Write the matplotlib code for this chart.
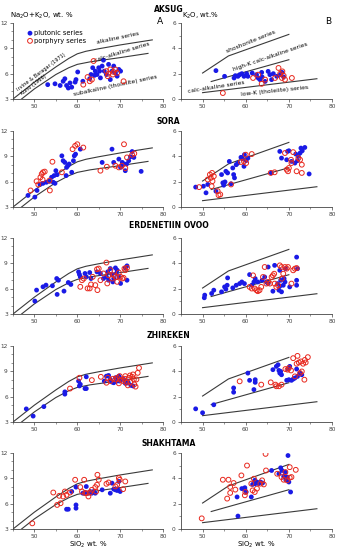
import matplotlib
matplotlib.use("Agg")
import matplotlib.pyplot as plt
from matplotlib.ticker import MultipleLocator

# (SiO2, Na2O+K2O) and (SiO2, K2O) pairs, wt. %
AKSUG_TAS_PLUT = [(53.1, 4.7), (54.8, 4.8), (56.0, 4.6), (56.7, 5.1), (57.1, 5.4), (57.5, 4.6),
                  (57.9, 4.3), (58.3, 4.9), (58.7, 4.4), (59.5, 5.0), (59.7, 5.3), (60.1, 6.2),
                  (61.3, 5.1), (62.9, 5.4), (63.2, 5.9), (63.6, 6.7), (64.0, 5.8), (64.2, 6.3),
                  (64.6, 5.9), (65.0, 6.7), (65.2, 6.3), (65.4, 5.5), (65.8, 6.9), (66.1, 7.6),
                  (66.3, 6.3), (66.8, 5.9), (67.3, 7.1), (67.7, 5.3), (68.1, 6.3), (68.5, 6.9),
                  (68.9, 6.1), (69.3, 5.7), (69.7, 6.5), (70.1, 6.3)]
AKSUG_TAS_PORPH = [(61.4, 4.7), (62.4, 5.6), (62.9, 5.1), (63.4, 5.3), (63.8, 7.5), (66.8, 6.3),
                   (67.1, 5.7), (67.3, 6.0), (67.7, 6.5), (68.3, 5.9), (68.5, 6.2), (68.9, 6.5),
                   (69.3, 6.1), (70.8, 5.1)]
AKSUG_K_PLUT = [(53.1, 2.24), (55.1, 1.79), (57.3, 1.66), (57.6, 1.84), (58.2, 1.79), (58.6, 1.92),
                (59.1, 2.0), (59.6, 1.79), (60.2, 2.0), (60.5, 1.79), (61.5, 2.05), (62.5, 1.92),
                (62.9, 1.66), (63.3, 1.53), (63.7, 2.1), (63.8, 1.74), (64.5, 1.39), (65.2, 2.18),
                (65.6, 1.92), (66.0, 1.53), (66.4, 2.0), (67.2, 1.79), (68.0, 1.92), (68.4, 2.1),
                (68.8, 1.74)]
AKSUG_K_PORPH = [(54.7, 0.47), (61.7, 1.66), (62.9, 1.92), (63.7, 1.2), (64.5, 1.53), (66.8, 1.66),
                 (67.6, 2.45), (68.0, 2.0), (68.4, 1.66), (68.5, 2.18), (68.8, 1.84), (69.1, 1.53),
                 (70.7, 1.66)]

SORA_TAS_PLUT = [(48.5, 4.37), (50.1, 4.17), (50.6, 4.96), (51.3, 5.66), (52.0, 5.8), (52.8, 5.93),
                 (53.5, 6.05), (54.0, 6.52), (54.4, 5.93), (54.8, 5.8), (54.6, 6.72), (55.0, 7.3),
                 (55.3, 6.83), (56.4, 9.06), (56.7, 8.48), (57.1, 8.28), (57.4, 6.72), (57.5, 7.69),
                 (57.8, 7.89), (58.1, 8.09), (58.7, 7.11), (59.1, 8.48), (59.3, 9.06), (59.6, 9.26),
                 (60.7, 9.85), (65.8, 8.28), (68.1, 9.85), (68.5, 8.28), (69.7, 8.67), (70.1, 7.69),
                 (70.4, 7.9), (70.5, 8.28), (70.8, 8.09), (71.2, 7.3), (71.5, 8.09), (72.0, 8.48),
                 (72.4, 8.95), (72.8, 9.57), (73.2, 8.87), (74.9, 7.22)]
SORA_TAS_PORPH = [(49.1, 4.96), (50.5, 6.05), (50.9, 5.66), (51.4, 6.52), (51.7, 6.91), (52.0, 7.11),
                  (52.4, 7.19), (51.9, 6.25), (53.5, 6.13), (53.6, 4.96), (54.2, 8.36), (56.4, 7.11),
                  (58.9, 9.85), (59.5, 10.24), (60.0, 10.43), (61.4, 10.04), (65.4, 7.3), (66.9, 7.77),
                  (68.9, 7.89), (69.7, 7.69), (70.4, 7.89), (70.9, 10.43), (71.2, 7.61), (71.6, 8.87),
                  (72.8, 9.18), (73.3, 9.34)]
SORA_K_PLUT = [(48.4, 1.57), (50.2, 1.64), (50.8, 1.12), (51.2, 1.78), (53.1, 1.25), (54.4, 2.56),
               (54.7, 1.91), (54.9, 1.72), (55.2, 1.98), (55.4, 2.82), (55.8, 2.69), (56.2, 3.6),
               (56.6, 1.83), (57.0, 3.08), (57.2, 2.56), (57.4, 2.3), (57.8, 3.34), (58.2, 3.47),
               (58.9, 3.92), (59.2, 3.81), (59.6, 3.21), (59.7, 4.13), (60.1, 3.66), (60.5, 3.86),
               (65.9, 2.69), (67.9, 4.39), (68.3, 3.86), (69.5, 3.73), (69.7, 4.39), (70.0, 4.44),
               (70.6, 3.6), (71.4, 3.47), (71.6, 4.18), (72.0, 3.66), (72.2, 3.99), (72.6, 4.26),
               (72.8, 4.65), (73.1, 4.44), (73.7, 4.7), (74.7, 2.61)]
SORA_K_PORPH = [(49.2, 1.57), (51.2, 2.17), (51.7, 2.56), (51.9, 2.3), (52.2, 2.69), (52.3, 2.04),
                (52.6, 2.43), (52.1, 1.64), (53.5, 1.25), (53.7, 0.94), (54.1, 0.99), (56.6, 1.78),
                (58.9, 3.55), (59.6, 3.6), (60.0, 4.13), (60.1, 3.47), (61.4, 4.18), (65.8, 2.69),
                (66.7, 2.74), (69.1, 4.26), (69.5, 2.95), (69.8, 2.82), (70.0, 3.08), (70.5, 3.73),
                (70.6, 3.47), (71.0, 4.33), (71.8, 2.82), (72.2, 3.86), (72.6, 3.73), (73.0, 3.34),
                (73.0, 2.69)]

ERDEN_TAS_PLUT = [(50.1, 4.53), (50.5, 5.83), (52.0, 6.22), (52.7, 6.42), (54.2, 6.34), (55.2, 7.2),
                  (55.6, 7.0), (55.3, 5.32), (56.9, 5.71), (57.9, 6.73), (58.5, 6.5), (60.3, 7.99),
                  (60.5, 7.68), (60.7, 7.4), (61.8, 7.8), (62.1, 7.4), (62.9, 7.91), (63.2, 7.2),
                  (64.6, 7.99), (65.4, 7.8), (66.1, 7.2), (66.8, 7.4), (67.1, 7.99), (67.3, 7.0),
                  (67.7, 8.38), (68.1, 7.68), (68.3, 6.8), (68.5, 7.2), (68.9, 8.46), (69.1, 7.8),
                  (69.3, 8.19), (69.7, 7.4), (70.1, 6.62), (71.2, 8.46), (71.6, 8.7), (71.6, 7.0)]
ERDEN_TAS_PORPH = [(60.7, 6.22), (61.1, 7.0), (61.5, 7.2), (62.4, 6.03), (62.9, 6.03), (63.2, 6.5),
                   (63.6, 7.4), (64.2, 6.42), (64.6, 8.3), (64.7, 5.83), (65.0, 8.38), (65.4, 7.0),
                   (66.1, 7.8), (66.8, 9.09), (67.0, 6.62), (67.3, 7.6), (67.7, 8.19), (68.1, 7.2),
                   (68.5, 7.6), (68.9, 7.4), (69.3, 6.81), (69.7, 7.91), (70.1, 7.4), (70.5, 7.2),
                   (70.8, 7.28), (71.0, 8.38), (71.2, 8.19), (71.6, 8.46)]
ERDEN_K_PLUT = [(50.4, 1.28), (50.5, 1.49), (52.1, 1.62), (52.6, 1.88), (54.4, 1.75), (55.1, 2.14),
                (55.4, 1.96), (55.7, 2.27), (55.8, 2.85), (57.0, 2.06), (57.8, 2.27), (58.6, 2.4),
                (59.1, 2.53), (59.7, 2.4), (60.9, 3.11), (61.4, 2.27), (61.9, 2.53), (62.2, 2.79),
                (62.8, 2.53), (63.8, 2.66), (64.4, 2.92), (64.8, 2.53), (65.2, 2.4), (65.2, 3.71),
                (66.3, 1.8), (66.7, 3.84), (67.4, 2.4), (67.7, 1.88), (67.9, 3.45), (67.9, 2.19),
                (68.1, 2.66), (68.3, 1.75), (68.7, 2.27), (68.9, 2.79), (69.1, 2.53), (69.2, 3.58),
                (70.2, 2.14), (71.8, 4.49), (71.8, 2.66), (71.8, 2.27), (72.0, 3.58)]
ERDEN_K_PORPH = [(60.9, 2.14), (61.4, 2.01), (61.7, 3.05), (62.1, 2.01), (62.5, 1.88), (62.8, 1.8),
                 (63.2, 1.88), (63.6, 2.14), (64.0, 2.92), (64.4, 3.71), (64.8, 2.4), (65.2, 2.53),
                 (65.6, 2.4), (66.0, 2.92), (66.3, 3.05), (66.6, 3.18), (66.7, 2.4), (67.1, 2.14),
                 (67.5, 2.27), (67.9, 3.84), (68.3, 3.71), (68.4, 2.79), (68.7, 3.18), (69.1, 3.71),
                 (69.5, 3.58), (69.8, 3.71), (70.6, 2.4), (71.0, 3.45), (71.4, 3.58), (71.8, 3.63)]

ZHIR_TAS_PLUT = [(48.1, 4.55), (49.7, 3.7), (52.2, 4.82), (57.1, 6.57), (57.1, 6.3), (60.3, 7.85),
                 (60.5, 7.27), (60.7, 7.46), (61.8, 6.96), (62.1, 6.96), (62.1, 8.35), (66.3, 7.85),
                 (66.8, 8.43), (67.3, 8.51), (67.7, 8.04), (68.1, 7.73), (68.5, 7.65), (68.9, 8.24),
                 (69.3, 7.85), (69.7, 8.43), (69.9, 7.85), (70.5, 8.12), (70.8, 8.04), (71.2, 7.58),
                 (71.6, 7.85), (71.9, 7.65), (72.5, 7.34), (73.0, 7.27)]
ZHIR_TAS_PORPH = [(58.3, 6.96), (60.5, 8.24), (63.4, 7.96), (65.5, 8.35), (66.8, 7.65), (67.1, 8.24),
                  (67.7, 7.85), (68.3, 8.12), (68.9, 8.04), (69.3, 8.24), (69.7, 7.58), (69.9, 8.43),
                  (70.2, 7.96), (70.7, 7.85), (71.0, 8.12), (71.2, 8.43), (71.5, 7.65), (71.8, 7.34),
                  (72.0, 8.24), (72.3, 8.51), (72.4, 7.73), (72.8, 8.35), (73.0, 8.63), (73.2, 8.04),
                  (73.3, 7.46), (73.6, 7.19), (73.8, 8.04), (74.1, 8.82), (74.4, 9.4)]
ZHIR_K_PLUT = [(48.4, 1.04), (50.0, 0.73), (52.6, 1.36), (57.2, 2.69), (57.2, 2.35), (60.5, 3.86),
               (60.9, 3.29), (61.9, 2.56), (62.2, 3.34), (62.2, 3.13), (66.3, 4.13), (67.1, 4.39),
               (67.5, 4.52), (67.7, 4.07), (67.9, 3.86), (68.1, 3.99), (68.3, 3.73), (69.5, 3.29),
               (69.8, 4.18), (70.0, 3.34), (70.2, 4.39), (70.6, 3.29), (71.0, 3.39), (71.4, 3.47),
               (71.8, 4.18), (72.0, 3.6), (72.6, 3.86), (73.0, 3.73)]
ZHIR_K_PORPH = [(58.6, 3.21), (63.6, 2.95), (65.8, 3.13), (66.9, 2.95), (67.1, 2.82), (67.7, 2.82),
                (68.3, 2.95), (69.2, 4.18), (69.7, 4.13), (70.0, 4.26), (70.5, 4.07), (71.0, 5.04),
                (71.4, 3.6), (71.8, 4.6), (72.0, 5.22), (72.3, 4.7), (72.6, 3.86), (72.8, 4.78),
                (73.0, 3.99), (73.3, 4.6), (73.6, 3.34), (73.7, 4.9), (73.9, 4.7), (74.4, 5.12)]

SHAKH_TAS_PLUT = [(57.5, 5.34), (57.9, 5.34), (58.7, 7.44), (59.7, 5.85), (59.7, 5.46), (59.7, 7.96),
                  (61.3, 7.24), (61.8, 7.32), (62.1, 8.03), (62.6, 7.24), (63.0, 7.44), (63.4, 7.24),
                  (63.8, 7.44), (64.2, 7.24), (65.8, 7.64), (67.7, 7.24), (68.1, 8.43), (68.5, 7.72),
                  (68.9, 7.64), (69.3, 7.56), (69.4, 7.72), (69.7, 8.63), (70.0, 7.44)]
SHAKH_TAS_PORPH = [(49.5, 3.67), (54.4, 7.32), (55.3, 5.85), (55.8, 6.93), (56.1, 6.05), (56.7, 6.85),
                   (57.1, 7.44), (57.5, 7.04), (58.3, 7.32), (59.5, 8.83), (60.7, 7.96), (61.1, 7.44),
                   (61.6, 8.83), (61.8, 7.24), (62.2, 7.24), (62.6, 6.85), (63.0, 7.32), (63.4, 7.64),
                   (64.2, 7.96), (64.4, 7.44), (64.6, 8.23), (64.7, 9.42), (65.0, 8.83), (66.8, 8.35),
                   (67.3, 8.51), (68.9, 8.04), (69.3, 8.23), (69.7, 9.03), (69.9, 8.83), (70.7, 7.72),
                   (71.2, 8.63)]
SHAKH_K_PLUT = [(58.2, 1.02), (58.0, 2.53), (59.1, 3.19), (59.8, 3.26), (60.1, 2.92), (59.8, 3.11),
                (61.3, 2.53), (61.6, 3.52), (62.1, 3.84), (62.2, 3.58), (62.6, 3.71), (63.0, 3.58),
                (63.4, 3.71), (63.9, 3.63), (66.0, 4.62), (67.7, 4.36), (68.1, 4.83), (68.4, 4.62),
                (68.8, 4.15), (69.2, 4.49), (69.3, 3.89), (69.6, 4.1), (69.8, 5.8), (70.0, 3.71),
                (70.4, 2.92)]
SHAKH_K_PORPH = [(49.8, 0.84), (54.7, 3.89), (55.7, 2.4), (56.0, 3.89), (56.4, 3.32), (56.4, 2.85),
                 (57.2, 3.63), (57.6, 3.11), (59.0, 4.23), (59.8, 2.66), (59.9, 2.92), (60.3, 5.01),
                 (61.3, 3.58), (61.6, 3.05), (61.9, 3.97), (62.1, 2.92), (62.6, 3.19), (63.4, 3.58),
                 (63.8, 3.84), (64.2, 3.52), (64.6, 5.93), (64.7, 4.62), (67.3, 4.36), (68.3, 4.1),
                 (68.8, 3.89), (69.2, 4.49), (69.6, 3.84), (70.2, 4.88), (70.2, 4.05), (70.6, 4.1),
                 (71.6, 4.67)]

SITES = ["AKSUG", "SORA", "ERDENETIIN OVOO", "ZHIREKEN", "SHAKHTAMA"]

# series boundaries (SiO2, value)
ALK_UPPER = [(45, 3.0), (50, 5.0), (55, 6.8), (58, 7.8), (60, 8.35), (62, 8.65), (65, 8.95),
             (70, 9.4), (77.5, 10.0)]
ALK_LOWER = [(47, 3.0), (50, 4.2), (55, 5.9), (58, 6.7), (60, 7.1), (63, 7.4), (70, 7.9),
             (76.5, 8.4)]
K_SHOSH = [(50, 2.05), (56, 3.4), (70, 5.1)]
K_HIGHK = [(52, 1.38), (70, 3.1)]
K_LOWK = [(50, 0.5), (76.5, 1.6)]

PLUT_C = "#1a1ae6"
PORPH_C = "#e8281e"
LINE_C = "#3a3a3a"

fig = plt.figure(figsize=(3.37, 5.5), dpi=100)
W, H = 337.0, 550.0
row_bottoms = [99, 207, 314, 422, 529]
title_y = [9, 121, 226, 335, 444]
ax_h = 76 / H


def xy(pts):
    return [p[0] for p in pts], [p[1] for p in pts]


def style(ax, ylim, ymajor, yminor):
    ax.set_xlim(45, 80)
    ax.set_ylim(*ylim)
    ax.xaxis.set_major_locator(MultipleLocator(10))
    ax.xaxis.set_minor_locator(MultipleLocator(5))
    ax.yaxis.set_major_locator(MultipleLocator(ymajor))
    ax.yaxis.set_minor_locator(MultipleLocator(yminor))
    for s in ("top", "right"):
        ax.spines[s].set_visible(False)
    for s in ("left", "bottom"):
        ax.spines[s].set_linewidth(0.6)
        ax.spines[s].set_color("#444444")
    ax.tick_params(which="major", length=2.5, width=0.5, labelsize=4.2, pad=1.2,
                   colors="#444444")
    ax.tick_params(which="minor", length=1.5, width=0.4, colors="#444444")
    ax.patch.set_alpha(0)


data = [
    (AKSUG_TAS_PLUT, AKSUG_TAS_PORPH, AKSUG_K_PLUT, AKSUG_K_PORPH),
    (SORA_TAS_PLUT, SORA_TAS_PORPH, SORA_K_PLUT, SORA_K_PORPH),
    (ERDEN_TAS_PLUT, ERDEN_TAS_PORPH, ERDEN_K_PLUT, ERDEN_K_PORPH),
    (ZHIR_TAS_PLUT, ZHIR_TAS_PORPH, ZHIR_K_PLUT, ZHIR_K_PORPH),
    (SHAKH_TAS_PLUT, SHAKH_TAS_PORPH, SHAKH_K_PLUT, SHAKH_K_PORPH),
]

axes = []
for i, (site, (tp, tq, kp, kq)) in enumerate(zip(SITES, data)):
    b = 1 - row_bottoms[i] / H
    ax1 = fig.add_axes([13 / W, b, 150 / W, ax_h])
    ax2 = fig.add_axes([181 / W, b, 151 / W, ax_h])
    axes.append((ax1, ax2))

    for line in (ALK_UPPER, ALK_LOWER):
        ax1.plot(*xy(line), color=LINE_C, lw=0.8, zorder=1)
    for line in (K_SHOSH, K_HIGHK, K_LOWK):
        ax2.plot(*xy(line), color=LINE_C, lw=0.8, zorder=1)

    for ax, plut, porph in ((ax1, tp, tq), (ax2, kp, kq)):
        ax.scatter(*xy(plut), s=12, color=PLUT_C, edgecolors="none", zorder=3,
                   label="plutonic series")
        ax.scatter(*xy(porph), s=12, facecolors="none", edgecolors=PORPH_C,
                   linewidths=0.7, zorder=4, label="porphyry series")

    style(ax1, (3, 12), 3, 1)
    style(ax2, (0, 6), 2, 1)

    fig.text(0.5, 1 - title_y[i] / H, site, ha="center", va="center",
             fontsize=5.5, fontweight="bold")

# annotations on the first row
ax1, ax2 = axes[0]
fig.text(10 / W, 1 - 16 / H, "Na$_2$O+K$_2$O, wt. %", fontsize=5, va="center")
fig.text(182 / W, 1 - 16 / H, "K$_2$O, wt.%", fontsize=5, va="center")
fig.text(160 / W, 1 - 22 / H, "A", fontsize=6.5, ha="center", va="center")
fig.text(328 / W, 1 - 22 / H, "B", fontsize=6.5, ha="center", va="center")

leg = ax1.legend(loc="upper left", bbox_to_anchor=(0.06, 0.97), fontsize=4.8,
                 frameon=False, handletextpad=0.1, borderpad=0.2, labelspacing=0.25,
                 handlelength=1.0)

tkw = dict(fontsize=4.3, ha="center", va="center", transform=ax1.transAxes)
ax1.text(0.70, 0.80, "alkaline series", rotation=12, **tkw)
ax1.text(0.73, 0.62, "calc-alkaline series", rotation=17, **tkw)
ax1.text(0.68, 0.17, "subalkaline (tholeiite) series", rotation=12, **tkw)
ax1.text(0.19, 0.36, "Irvine & Baragar (1971)", rotation=37, fontsize=3.6,
         ha="center", va="center", transform=ax1.transAxes)
ax1.text(0.14, 0.19, "Kuno (1966)", rotation=37, fontsize=3.6,
         ha="center", va="center", transform=ax1.transAxes)

tkw2 = dict(fontsize=4.3, ha="center", va="center", transform=ax2.transAxes)
ax2.text(0.46, 0.75, "shoshonite series", rotation=22, **tkw2)
ax2.text(0.59, 0.55, "high-K calc-alkaline series", rotation=19, **tkw2)
ax2.text(0.23, 0.16, "calc-alkaline series", rotation=9, **tkw2)
ax2.text(0.62, 0.11, "low-K (tholeiite) series", rotation=6, **tkw2)

# x labels under the bottom row
fig.text(88 / W, 1 - 545 / H, "SiO$_2$ wt. %", fontsize=5, ha="center", va="center")
fig.text(256 / W, 1 - 545 / H, "SiO$_2$ wt. %", fontsize=5, ha="center", va="center")

fig.savefig("out.png", dpi=100)
